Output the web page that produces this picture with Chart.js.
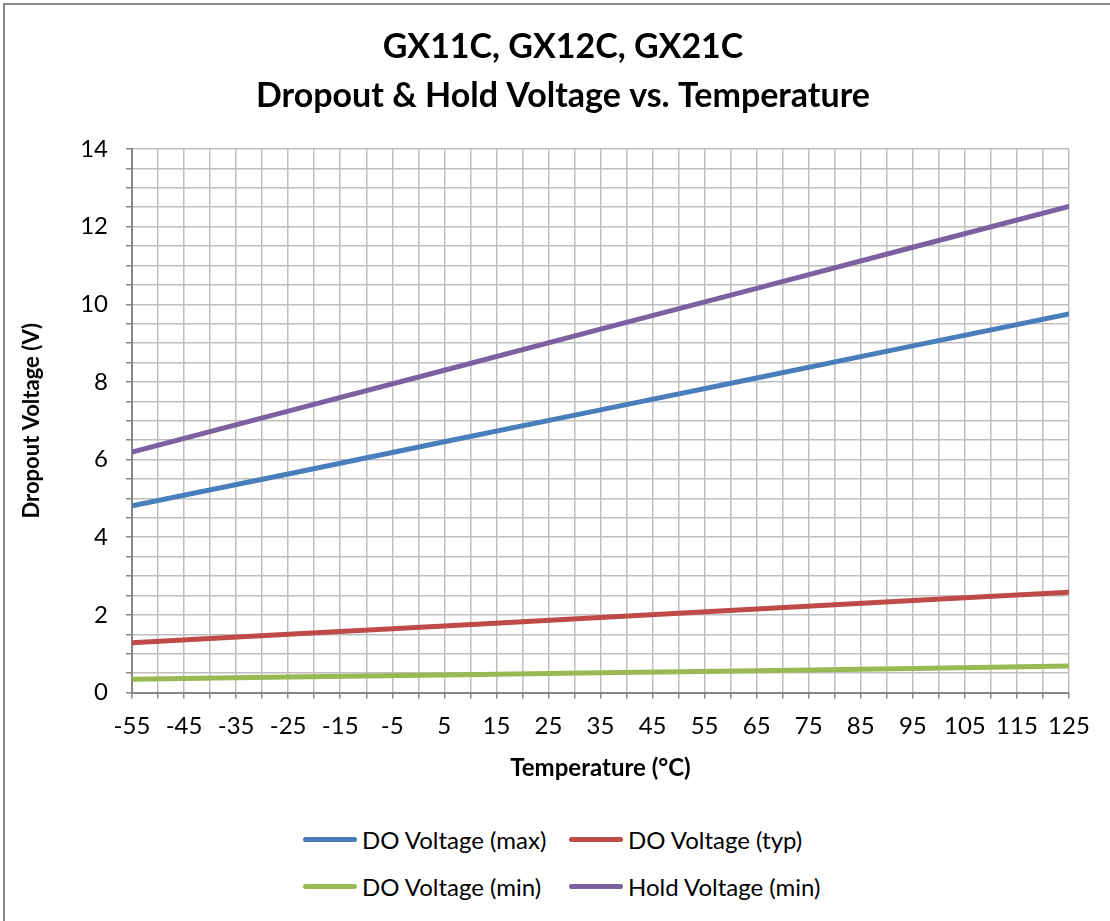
<!DOCTYPE html>
<html>
<head>
<meta charset="utf-8">
<script src="https://cdn.jsdelivr.net/npm/chart.js@4.4.0/dist/chart.umd.min.js"></script>
<style>
  body { margin: 0; background: #fff; width: 1110px; height: 921px; overflow: hidden; position: relative; font-family: Lato, sans-serif; }
  #frame { position: absolute; left: 3px; top: 3px; width: 1200px; height: 1000px; border: 2px solid #8a8a8a; }
  #wrap { position: absolute; left: 0; top: 0; width: 1110px; height: 810px; }
  .item { position: absolute; display: flex; align-items: center; height: 28px; font-size: 24px; color: #000; white-space: nowrap; }
  .swatch { width: 54px; height: 5px; border-radius: 3px; margin-right: 5px; }
</style>
</head>
<body>
<div id="frame"></div>
<div id="wrap"><canvas id="chart"></canvas></div>
<div id="legend"></div>
<script>
// values
const temps = [-55, -25, 5, 35, 65, 95, 125];
const doMax = [4.81, 5.63, 6.46, 7.28, 8.10, 8.93, 9.75];
const doTyp = [1.28, 1.50, 1.71, 1.93, 2.15, 2.37, 2.58];
const doMin = [0.34, 0.40, 0.45, 0.51, 0.56, 0.62, 0.68];
const holdMin = [6.19, 7.25, 8.30, 9.36, 10.41, 11.47, 12.52];
const seriesNames = ['DO Voltage (max)', 'DO Voltage (typ)', 'DO Voltage (min)', 'Hold Voltage (min)'];
const seriesColors = ['#4A7EBB', '#BE4B48', '#98B954', '#7D60A0'];
const titleLines = ['GX11C, GX12C, GX21C', 'Dropout & Hold Voltage vs. Temperature'];

const font = 'Lato';

function toPoints(vals) {
  return temps.map((t, i) => ({ x: t, y: vals[i] }));
}

const allSeries = [doMax, doTyp, doMin, holdMin];
const datasets = allSeries.map((vals, i) => ({
  label: seriesNames[i],
  data: toPoints(vals),
  borderColor: seriesColors[i],
  backgroundColor: seriesColors[i],
  borderWidth: 5,
  borderCapStyle: 'round',
  pointRadius: 0,
  tension: 0
}));

// the title in the reference sits a bit right of the canvas centre
const shiftTitle = {
  id: 'shiftTitle',
  afterLayout(chart) {
    if (chart.titleBlock) chart.titleBlock.left = 57;
  }
};

const ctx = document.getElementById('chart').getContext('2d');
const chart = new Chart(ctx, {
  type: 'line',
  data: { datasets },
  plugins: [shiftTitle],
  options: {
    responsive: true,
    maintainAspectRatio: false,
    animation: false,
    devicePixelRatio: 1,
    layout: { padding: { left: 0, right: 41, top: 0, bottom: 0 } },
    plugins: {
      legend: { display: false },
      tooltip: { enabled: false },
      title: {
        display: true,
        text: titleLines,
        color: '#000',
        font: { family: font, size: 34, weight: 'bold', lineHeight: 49 / 34 },
        padding: { top: 22.5, bottom: 28.5 }
      }
    },
    scales: {
      x: {
        type: 'linear',
        min: -55,
        max: 125,
        ticks: {
          stepSize: 5,
          autoSkip: false,
          maxRotation: 0,
          padding: 13,
          color: '#000',
          font: { family: font, size: 24 },
          callback: v => ((v + 55) % 10 === 0 ? String(v) : '')
        },
        grid: { color: '#BFBFBF', lineWidth: 1.5, tickLength: 6, tickColor: '#868686', tickWidth: 1.5 },
        border: { color: '#868686', width: 2 },
        title: {
          display: true,
          text: 'Temperature (°C)',
          color: '#000',
          font: { family: font, size: 24, weight: 'bold' },
          padding: { top: 0, bottom: 27.5 }
        },
        afterFit: s => { s.height = 117.5; s.paddingLeft = 0; s.paddingRight = 0; }
      },
      y: {
        min: 0,
        max: 14,
        ticks: {
          stepSize: 0.5,
          autoSkip: false,
          padding: 18,
          color: '#000',
          font: { family: font, size: 24 },
          callback: v => (v % 2 === 0 ? String(v) : '')
        },
        grid: { color: '#BFBFBF', lineWidth: 1.5, tickLength: 6, tickColor: '#868686', tickWidth: 1.5 },
        border: { color: '#868686', width: 2 },
        title: {
          display: true,
          text: 'Dropout Voltage (V)',
          color: '#000',
          font: { family: font, size: 22, weight: 'bold' },
          padding: { top: 19, bottom: 0 }
        },
        afterFit: s => { s.width = 132; s.paddingTop = 0; s.paddingBottom = 0; }
      }
    }
  }
});

// legend in two columns, built from the datasets
const legendPos = [[303, 825], [569, 825], [303, 872], [569, 872]];
const legend = document.getElementById('legend');
chart.data.datasets.forEach((ds, i) => {
  const item = document.createElement('div');
  item.className = 'item';
  item.style.left = legendPos[i][0] + 'px';
  item.style.top = legendPos[i][1] + 'px';
  const sw = document.createElement('span');
  sw.className = 'swatch';
  sw.style.background = ds.borderColor;
  const txt = document.createElement('span');
  txt.textContent = ds.label;
  item.appendChild(sw);
  item.appendChild(txt);
  legend.appendChild(item);
});
</script>
</body>
</html>
